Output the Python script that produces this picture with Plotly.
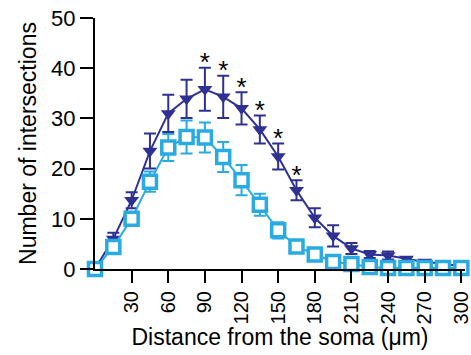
import plotly.graph_objects as go

distance = [0, 15, 30, 45, 60, 75, 90, 105, 120, 135, 150, 165, 180, 195, 210, 225, 240, 255, 270, 285, 300]
dark_mean = [0, 6, 13.7, 23.5, 31, 33.9, 35.8, 34.3, 32, 27.8, 22.4, 15.7, 10.2, 6.6, 4.1, 2.9, 2.7, 2.0, 1.4, 1.1, 0.5]
dark_sem = [0, 1.2, 1.6, 3.5, 3.7, 3.8, 4.3, 4.2, 3.2, 2.8, 2.6, 2.0, 1.9, 2.1, 1.1, 0.7, 0.8, 0.4, 0.4, 0.3, 0.2]
light_mean = [0, 4.4, 10, 17.4, 24.2, 26.3, 26.2, 22.3, 17.7, 12.8, 7.7, 4.5, 2.9, 1.4, 1.0, 0.4, 0.2, 0.2, 0.2, 0.2, 0.2]
light_sem = [0, 0.8, 1.2, 2.0, 2.7, 3.3, 3.0, 3.0, 3.0, 2.2, 1.6, 0.8, 0.5, 0.3, 0.3, 0.2, 0.2, 0.2, 0.2, 0.2, 0.2]
sig_distance = [90, 105, 120, 135, 150, 165]
x_ticks = [30, 60, 90, 120, 150, 180, 210, 240, 270, 300]
y_ticks = [0, 10, 20, 30, 40, 50]

DARK = "#2E3192"
LIGHT = "#29ABE2"
FONT = "Liberation Sans, Arial, sans-serif"

fig = go.Figure()
fig.add_trace(go.Scatter(
    x=distance, y=dark_mean, mode="lines+markers",
    line=dict(color=DARK, width=2),
    marker=dict(symbol="triangle-down", size=13, color=DARK),
    error_y=dict(type="data", array=dark_sem, color=DARK, thickness=2, width=6),
    cliponaxis=False, showlegend=False))
fig.add_trace(go.Scatter(
    x=distance, y=light_mean, mode="lines+markers",
    line=dict(color=LIGHT, width=2),
    marker=dict(symbol="square-open", size=14, color=LIGHT, line=dict(width=2.5, color=LIGHT)),
    error_y=dict(type="data", array=light_sem, color=LIGHT, thickness=2, width=6),
    cliponaxis=False, showlegend=False))
# white fill for squares
fig.add_trace(go.Scatter(
    x=distance, y=light_mean, mode="markers",
    marker=dict(symbol="square", size=12, color="white", line=dict(width=2.5, color=LIGHT)),
    cliponaxis=False, showlegend=False, hoverinfo="skip"))

sig_y = [dark_mean[distance.index(d)] + dark_sem[distance.index(d)] + 0.6 for d in sig_distance]
fig.add_trace(go.Scatter(
    x=sig_distance, y=sig_y, mode="text", text=["*"] * len(sig_distance),
    textposition="middle center", textfont=dict(size=26, color="black", family=FONT),
    cliponaxis=False, showlegend=False))

fig.update_layout(
    width=471, height=355,
    margin=dict(l=95, r=6, t=18, b=86, autoexpand=False),
    paper_bgcolor="white", plot_bgcolor="white",
    font=dict(family=FONT, size=22, color="black"),
)
fig.update_xaxes(
    range=[0, 303], tickvals=x_ticks, ticktext=[str(t) for t in x_ticks],
    tickangle=-90, ticks="outside", ticklen=12, tickwidth=2, tickcolor="black",
    showline=True, linewidth=2, linecolor="black", showgrid=False, zeroline=False,
    tickfont=dict(size=20), automargin=False, ticklabeloverflow="allow",
    title=dict(text="Distance from the soma (μm)", font=dict(size=23), standoff=6))
fig.update_yaxes(
    range=[0, 50], tickvals=y_ticks, ticks="outside", ticklen=13, tickwidth=2, tickcolor="black",
    showline=True, linewidth=2, linecolor="black", showgrid=False, zeroline=False,
    tickfont=dict(size=22), automargin=False, ticklabeloverflow="allow",
    title=dict(text="Number of intersections", font=dict(size=23), standoff=8))

fig.write_html("out.html", config={"displayModeBar": False},
               post_script="document.body.style.margin='0px';")
